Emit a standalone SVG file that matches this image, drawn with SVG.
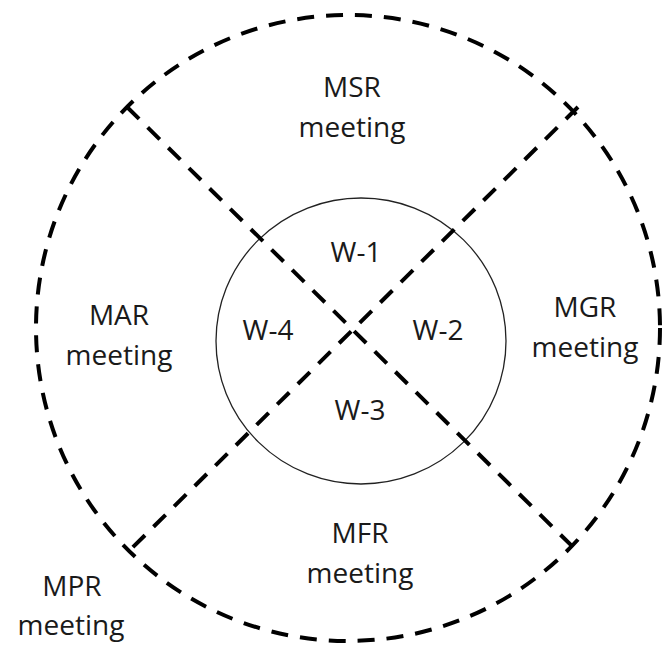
<svg xmlns="http://www.w3.org/2000/svg" width="662" height="648" viewBox="0 0 662 648">
<style>
.dash{fill:none;stroke:#000;stroke-width:4;stroke-dasharray:17 12}
.thin{fill:none;stroke:#222;stroke-width:1.3}
text{font-family:"Open Sans","Liberation Sans",sans-serif;font-size:28px;fill:#1a1a1a;text-anchor:middle}
</style>
<rect width="662" height="648" fill="#fff"/>
<g id="outer-ring">
<ellipse class="dash" cx="348" cy="328" rx="312" ry="313"/>
</g>
<g id="inner-circle">
<ellipse class="thin" cx="361" cy="341" rx="145" ry="143"/>
</g>
<g id="connectors">
<line class="dash" x1="127" y1="107" x2="578" y2="552"/>
<line class="dash" x1="578" y1="107" x2="127" y2="553"/>
</g>
<g id="msr"><text x="352" y="97">MSR</text><text x="352" y="137">meeting</text></g>
<g id="mar"><text x="119" y="325">MAR</text><text x="119" y="365">meeting</text></g>
<g id="mgr"><text x="585" y="317">MGR</text><text x="585" y="357">meeting</text></g>
<g id="mfr"><text x="360" y="543">MFR</text><text x="360" y="583">meeting</text></g>
<g id="mpr"><text x="72" y="596">MPR</text><text x="71" y="635">meeting</text></g>
<g id="w1"><text x="356" y="262">W-1</text></g>
<g id="w2"><text x="438" y="340">W-2</text></g>
<g id="w3"><text x="360" y="420">W-3</text></g>
<g id="w4"><text x="268" y="340">W-4</text></g>
</svg>
